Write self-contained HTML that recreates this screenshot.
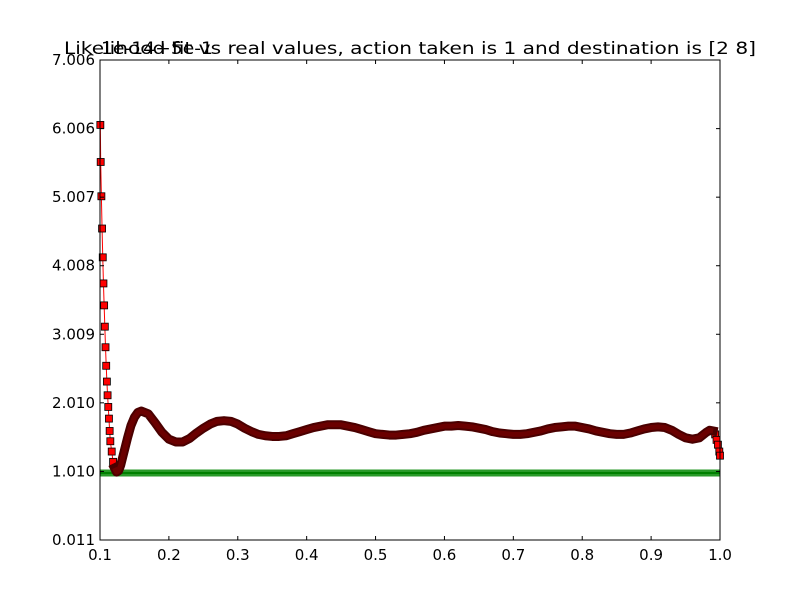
<!DOCTYPE html>
<html><head><meta charset="utf-8"><style>
body{margin:0;background:#fff;}
svg text{font-family:"DejaVu Sans","Liberation Sans",sans-serif;}
</style></head><body>
<svg id="chart" width="800" height="600" xmlns="http://www.w3.org/2000/svg">
<rect x="0" y="0" width="800" height="600" fill="#fff"/>
<g id="plot"></g>
<text x="64" y="54" font-size="17" textLength="692" lengthAdjust="spacingAndGlyphs">Likelihood fit vs real values, action taken is 1 and destination is [2 8]</text>
<text x="101" y="54" font-size="17" textLength="112" lengthAdjust="spacingAndGlyphs">1e-14+5e-1</text>
</svg>
<script>
const xTicks=[0.1,0.2,0.3,0.4,0.5,0.6,0.7,0.8,0.9,1.0];
const xTickLabels=["0.1","0.2","0.3","0.4","0.5","0.6","0.7","0.8","0.9","1.0"];
const yTicks=[0.011,1.010,2.010,3.009,4.008,5.007,6.006,7.006];
const yTickLabels=["0.011","1.010","2.010","3.009","4.008","5.007","6.006","7.006"];
const fitX=[0.1005,0.101,0.102,0.103,0.104,0.105,0.106,0.107,0.108,0.109,0.110,0.111,0.112,0.113,0.114,0.115,0.117,0.119,0.121,0.124,0.127,0.13,0.135,0.14,0.145,0.15,0.155,0.16,0.17,0.18,0.19,0.20,0.21,0.22,0.23,0.24,0.25,0.26,0.27,0.28,0.29,0.30,0.31,0.32,0.33,0.34,0.35,0.36,0.37,0.38,0.39,0.40,0.41,0.42,0.43,0.44,0.45,0.46,0.47,0.48,0.49,0.50,0.51,0.52,0.53,0.54,0.55,0.56,0.57,0.58,0.59,0.60,0.61,0.62,0.63,0.64,0.65,0.66,0.67,0.68,0.69,0.70,0.71,0.72,0.73,0.74,0.75,0.76,0.77,0.78,0.79,0.80,0.81,0.82,0.83,0.84,0.85,0.86,0.87,0.88,0.89,0.90,0.91,0.92,0.93,0.94,0.95,0.96,0.97,0.98,0.985,0.99,0.993,0.995,0.997,0.999,1.0];
const fitY=[6.06,5.52,5.02,4.55,4.13,3.75,3.43,3.12,2.82,2.55,2.32,2.12,1.95,1.78,1.60,1.45,1.30,1.15,1.06,1.00,1.02,1.10,1.30,1.50,1.68,1.80,1.87,1.89,1.85,1.72,1.58,1.48,1.44,1.44,1.49,1.57,1.64,1.70,1.74,1.75,1.74,1.70,1.64,1.59,1.55,1.53,1.52,1.52,1.53,1.56,1.59,1.62,1.65,1.67,1.69,1.69,1.69,1.67,1.65,1.62,1.59,1.56,1.55,1.54,1.54,1.55,1.56,1.58,1.61,1.63,1.65,1.67,1.67,1.68,1.67,1.66,1.64,1.62,1.59,1.57,1.56,1.55,1.55,1.56,1.58,1.60,1.63,1.65,1.66,1.67,1.67,1.65,1.63,1.60,1.58,1.56,1.55,1.55,1.57,1.60,1.63,1.65,1.66,1.65,1.61,1.55,1.50,1.48,1.50,1.58,1.61,1.60,1.55,1.47,1.40,1.30,1.24];
const realX=[0.1,0.2,0.3,0.4,0.5,0.6,0.7,0.8,0.9,1.0];
const realY=[0.987,0.987,0.987,0.987,0.987,0.987,0.987,0.987,0.987,0.987];

const L=100,R=720,T=60,B=540,X0=0.1,X1=1.0,Y0=0.011,Y1=7.006;
const sx=v=>L+(v-X0)/(X1-X0)*(R-L);
const sy=v=>B-(v-Y0)/(Y1-Y0)*(B-T);
const NS="http://www.w3.org/2000/svg";
const g=document.getElementById('plot');
function mk(tag,attrs){const e=document.createElementNS(NS,tag);for(const k in attrs)e.setAttribute(k,attrs[k]);g.appendChild(e);return e;}

const gpts=realX.map((x,i)=>sx(x)+','+sy(realY[i])).join(' ');
let gb=mk('polyline',{points:gpts,fill:'none',stroke:'#2a9a2a','stroke-width':7});


let gl=mk('polyline',{points:gpts,fill:'none',stroke:'#008000','stroke-width':2});



const rpts=fitX.map((x,i)=>sx(x)+','+sy(fitY[i])).join(' ');
const bandPts=fitX.map((x,i)=>[x,fitY[i]]).filter(p=>p[0]>=0.121&&p[0]<=0.99).map(p=>sx(p[0])+','+sy(p[1])).join(' ');
let rl=mk('polyline',{points:rpts,fill:'none',stroke:'#ff0000','stroke-width':1});


fitX.forEach((x,i)=>{
  const near=(x<0.121||x>0.99);
  if(!near)return;
  const px=sx(x),py=sy(fitY[i]);
  const m=mk('rect',{x:px-3.5,y:py-3.5,width:7,height:7,fill:'#ff0000',stroke:'#000','stroke-width':0.8});
  
  
});
let rb=mk('polyline',{points:bandPts,fill:'none',stroke:'#4a0000','stroke-width':9,'stroke-linejoin':'round','stroke-linecap':'square'});


let rb2=mk('polyline',{points:bandPts,fill:'none',stroke:'#6a0000','stroke-width':5,'stroke-linejoin':'round'});



let fr=mk('rect',{x:L,y:T,width:R-L,height:B-T,fill:'none',stroke:'#000','stroke-width':1});



xTicks.forEach((v,i)=>{
  const px=sx(v);
  mk('line',{x1:px,y1:B,x2:px,y2:B-4,stroke:'#000'});
  mk('line',{x1:px,y1:T,x2:px,y2:T+4,stroke:'#000'});
  const t=mk('text',{x:px,y:B+20,'font-size':15,'text-anchor':'middle'});
  t.textContent=xTickLabels[i];
  
  
});
yTicks.forEach((v,i)=>{
  const py=sy(v);
  mk('line',{x1:L,y1:py,x2:L+4,y2:py,stroke:'#000'});
  mk('line',{x1:R,y1:py,x2:R-4,y2:py,stroke:'#000'});
  const t=mk('text',{x:L-5,y:py+5,'font-size':15,'text-anchor':'end'});
  t.textContent=yTickLabels[i];
  
  
});
</script>
</body></html>
